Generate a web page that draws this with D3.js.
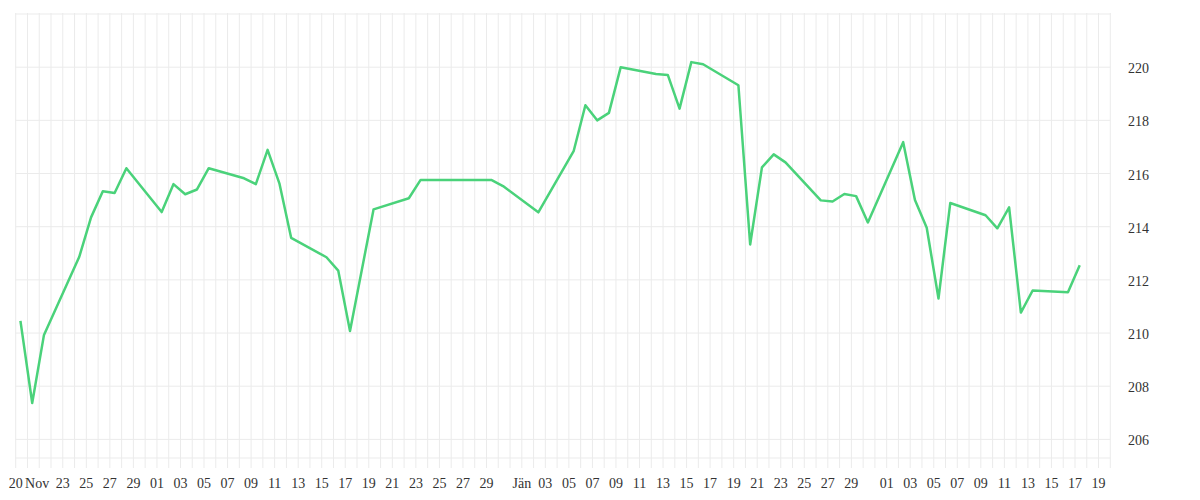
<!DOCTYPE html>
<html lang="de">
<head>
<meta charset="UTF-8">
<script src="https://d3js.org/d3.v7.min.js"></script>
<title>Chart</title>
<style>
  body { margin: 0; background: #fff; }
  svg text { font-family: "Liberation Serif", "DejaVu Serif", "Times New Roman", Times, serif; font-size: 14px; fill: #333; }
</style>
</head>
<body>
<svg width="1200" height="500"></svg>
<script>
// trading days
const dates = [
  "2025-11-19","2025-11-20","2025-11-21","2025-11-24","2025-11-25","2025-11-26","2025-11-27","2025-11-28",
  "2025-12-01","2025-12-02","2025-12-03","2025-12-04","2025-12-05","2025-12-08","2025-12-09","2025-12-10",
  "2025-12-11","2025-12-12","2025-12-15","2025-12-16","2025-12-17","2025-12-19","2025-12-22","2025-12-23",
  "2025-12-24","2025-12-26","2025-12-29","2025-12-30",
  "2026-01-02","2026-01-05","2026-01-06","2026-01-07","2026-01-08","2026-01-09","2026-01-12","2026-01-13",
  "2026-01-14","2026-01-15","2026-01-16","2026-01-19","2026-01-20","2026-01-21","2026-01-22","2026-01-23",
  "2026-01-26","2026-01-27","2026-01-28","2026-01-29","2026-01-30",
  "2026-02-02","2026-02-03","2026-02-04","2026-02-05","2026-02-06","2026-02-09","2026-02-10","2026-02-11",
  "2026-02-12","2026-02-13","2026-02-16","2026-02-17"
];
const values = [
  210.46, 207.37, 209.93, 212.87, 214.35, 215.33, 215.27, 216.20,
  214.55, 215.60, 215.22, 215.40, 216.20, 215.82, 215.60, 216.89,
  215.63, 213.58, 212.85, 212.35, 210.08, 214.65, 215.07, 215.76,
  215.76, 215.76, 215.76, 215.53,
  214.54, 216.84, 218.57, 218.00, 218.28, 220.00, 219.74, 219.71,
  218.44, 220.19, 220.11, 219.32, 213.33, 216.23, 216.72, 216.42,
  214.99, 214.95, 215.23, 215.15, 214.16,
  217.18, 215.00, 213.96, 211.30, 214.89, 214.43, 213.94, 214.73,
  210.77, 211.60, 211.53, 212.55
];
// x axis labels
const tickDates = [
  "2025-11-19","2025-11-21","2025-11-23","2025-11-25","2025-11-27","2025-11-29",
  "2025-12-01","2025-12-03","2025-12-05","2025-12-07","2025-12-09","2025-12-11","2025-12-13","2025-12-15",
  "2025-12-17","2025-12-19","2025-12-21","2025-12-23","2025-12-25","2025-12-27","2025-12-29",
  "2026-01-01","2026-01-03","2026-01-05","2026-01-07","2026-01-09","2026-01-11","2026-01-13","2026-01-15",
  "2026-01-17","2026-01-19","2026-01-21","2026-01-23","2026-01-25","2026-01-27","2026-01-29",
  "2026-02-01","2026-02-03","2026-02-05","2026-02-07","2026-02-09","2026-02-11","2026-02-13","2026-02-15",
  "2026-02-17","2026-02-19"
];
const tickLabels = [
  "20","Nov","23","25","27","29",
  "01","03","05","07","09","11","13","15",
  "17","19","21","23","25","27","29",
  "Jän","03","05","07","09","11","13","15",
  "17","19","21","23","25","27","29",
  "01","03","05","07","09","11","13","15",
  "17","19"
];
const yTicks = [206, 208, 210, 212, 214, 216, 218, 220];

const parseDay = d3.timeParse("%Y-%m-%d");
const parsePoint = d3.timeParse("%Y-%m-%d %H:%M");
const data = dates.map((d, i) => ({ date: parsePoint(d + " 09:40"), value: values[i] }));

const svg = d3.select("svg");
const plotLeft = 15.7, plotRight = 1110.3, plotTop = 14, plotBottom = 458;

const x = d3.scaleTime()
  .domain([parseDay("2025-11-19"), parseDay("2026-02-20")])
  .range([plotLeft, plotRight]);
const y = d3.scaleLinear()
  .domain([205.3, 222])
  .range([plotBottom, plotTop]);

const grid = svg.append("g").attr("stroke", "#ebebeb").attr("stroke-width", 1);

// one vertical line per day, running down past the plot as a tick
grid.selectAll(".vline")
  .data(d3.timeDay.range(x.domain()[0], d3.timeDay.offset(x.domain()[1], 1)))
  .enter().append("line")
  .attr("x1", d => x(d)).attr("x2", d => x(d))
  .attr("y1", plotTop - 1).attr("y2", plotBottom + 10);

grid.selectAll(".hline")
  .data(yTicks.concat([222, 205.3]))
  .enter().append("line")
  .attr("x1", plotLeft).attr("x2", plotRight)
  .attr("y1", d => y(d)).attr("y2", d => y(d));

svg.append("g").selectAll("text")
  .data(yTicks)
  .enter().append("text")
  .attr("x", 1128)
  .attr("y", d => y(d) + 6)
  .text(d => d);

// "Nov" sits right after "20" in the original, so it is anchored at its left edge
svg.append("g").selectAll("text")
  .data(tickDates)
  .enter().append("text")
  .attr("x", d => x(parseDay(d)))
  .attr("y", 488)
  .attr("text-anchor", (d, i) => tickLabels[i] === "Nov" ? "end" : "middle")
  .attr("dx", (d, i) => tickLabels[i] === "Nov" ? 10 : 0)
  .text((d, i) => tickLabels[i]);

const line = d3.line()
  .x(d => x(d.date))
  .y(d => y(d.value));

svg.append("path")
  .datum(data)
  .attr("fill", "none")
  .attr("stroke", "#4ad27a")
  .attr("stroke-width", 2.5)
  .attr("stroke-linejoin", "round")
  .attr("d", line);
</script>
</body>
</html>
